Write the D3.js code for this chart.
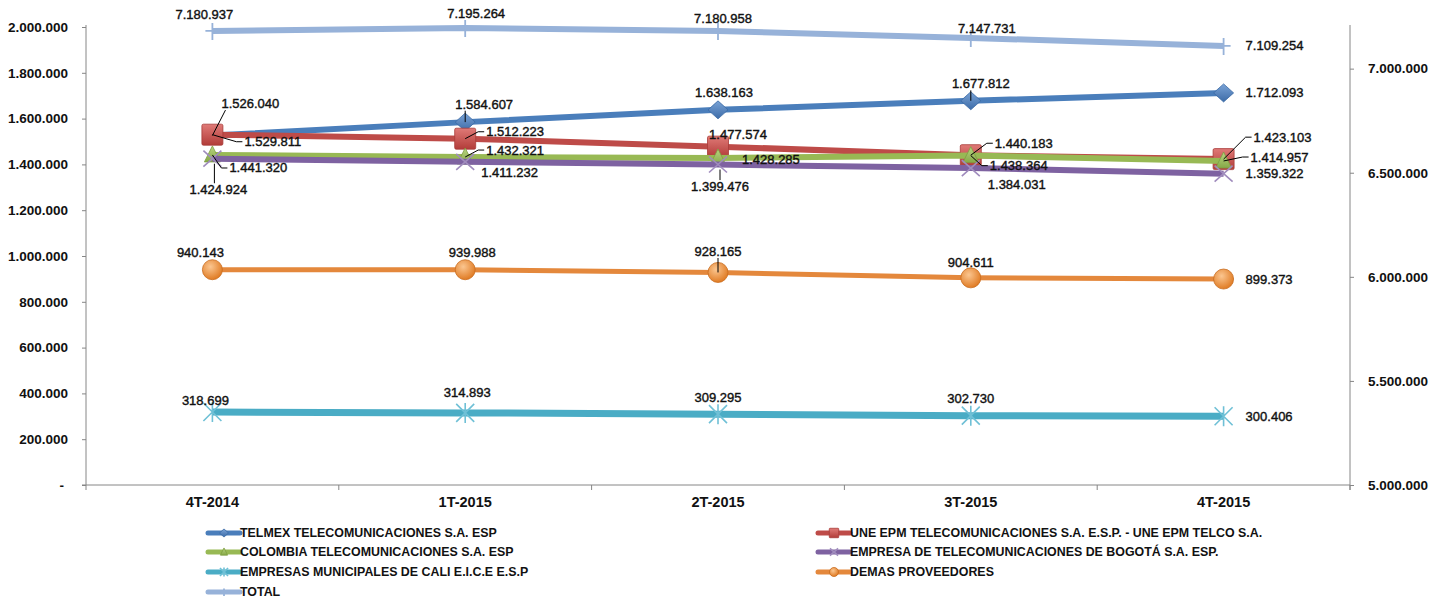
<!DOCTYPE html>
<html>
<head>
<meta charset="utf-8">
<script src="https://cdn.jsdelivr.net/npm/d3@7"></script>
<style>
  html, body { margin: 0; padding: 0; background: #fff; }
  svg { display: block; }
  text { font-family: "Liberation Sans", Arial, sans-serif; }
</style>
</head>
<body>
<svg id="chart" width="1432" height="600"></svg>
<script>
// ---------------- DATA ----------------
const categories = ["4T-2014", "1T-2015", "2T-2015", "3T-2015", "4T-2015"];

const seriesNames = [
  "TELMEX TELECOMUNICACIONES S.A. ESP",
  "UNE EPM TELECOMUNICACIONES S.A. E.S.P. - UNE EPM TELCO S.A.",
  "COLOMBIA TELECOMUNICACIONES S.A. ESP",
  "EMPRESA DE TELECOMUNICACIONES DE BOGOTÁ S.A. ESP.",
  "EMPRESAS MUNICIPALES DE CALI E.I.C.E E.S.P",
  "DEMAS PROVEEDORES",
  "TOTAL"
];

const telmex   = [1526040, 1584607, 1638163, 1677812, 1712093];
const une      = [1529811, 1512223, 1477574, 1440183, 1423103];
const colombia = [1441320, 1432321, 1428285, 1438364, 1414957];
const etb      = [1424924, 1411232, 1399476, 1384031, 1359322];
const emcali   = [318699, 314893, 309295, 302730, 300406];
const demas    = [940143, 939988, 928165, 904611, 899373];
const total    = [7180937, 7195264, 7180958, 7147731, 7109254];

const leftTicks  = [0, 200000, 400000, 600000, 800000, 1000000, 1200000, 1400000, 1600000, 1800000, 2000000];
const rightTicks = [5000000, 5500000, 6000000, 6500000, 7000000];

// ---------------- STYLE / LAYOUT ----------------
const W = 1432, H = 600;
const plot = { left: 86, right: 1350, top: 27, bottom: 485 };

const styles = [
  { color: "#4a7ebb", marker: "diamond",  fill: ["#7aa3d6", "#3d6ca8"], width: 6 },
  { color: "#be4b48", marker: "square",   fill: ["#e07a77", "#b23c39"], width: 6 },
  { color: "#98b954", marker: "triangle", fill: ["#b9d582", "#86a847"], width: 6 },
  { color: "#7e62a1", marker: "x",        fill: null, width: 6 },
  { color: "#4aacc5", marker: "asterisk", fill: null, width: 7 },
  { color: "#e4883c", marker: "circle",   fill: ["#fbc690", "#e07c25"], width: 5 },
  { color: "#97b2d9", marker: "plus",     fill: null, width: 6 }
];

// label layout: [dx, dy, anchor, leader]
const labelLayout = [
  [[38,-32,"middle",1],[19,-18,"middle",1],[6,-17,"middle",0],[10,-17,"middle",1],[22,0,"start",0]],
  [[32,7,"start",1],[21,-7,"start",1],[20,-12,"middle",0],[24,-12,"start",1],[30,-22,"start",1]],
  [[17,13,"start",1],[21,-7,"start",1],[24,2,"start",0],[19,10,"start",1],[27,-4,"start",1]],
  [[6,31,"middle",1],[16,11,"start",0],[2,22,"middle",1],[17,16,"start",0],[22,0,"start",0]],
  [[-7,-12,"middle",0],[2,-20,"middle",0],[0,-17,"middle",0],[0,-17,"middle",0],[22,0,"start",0]],
  [[-12,-17,"middle",0],[7,-17,"middle",0],[0,-21,"middle",1],[0,-15,"middle",0],[22,0,"start",0]],
  [[-8,-17,"middle",0],[11,-15,"middle",0],[5,-13,"middle",0],[16,-9,"middle",0],[22,0,"start",0]]
];

const allValues = [telmex, une, colombia, etb, emcali, demas, total];
const series = seriesNames.map((name, i) => ({
  name, values: allValues[i], style: styles[i], layout: labelLayout[i], secondary: i === 6
}));

// ---------------- SETUP ----------------
const locale = d3.formatLocale({ decimal: ",", thousands: ".", grouping: [3], currency: ["$", ""] });
const fmt = locale.format(",d");

const svg = d3.select("#chart");
const defs = svg.append("defs");

const x = d3.scaleBand().domain(categories).range([plot.left, plot.right]).paddingInner(0).paddingOuter(0);
const cx = c => x(c) + x.bandwidth() / 2;
const yL = d3.scaleLinear().domain([0, 2000000]).range([plot.bottom, plot.top]);
const yR = d3.scaleLinear().domain([5000000, 7200000]).range([plot.bottom, plot.top]);

// gradients
series.forEach((s, i) => {
  if (!s.style.fill) return;
  if (s.style.marker === "circle") {
    const g = defs.append("radialGradient").attr("id", "grad" + i)
      .attr("cx", "40%").attr("cy", "35%").attr("r", "65%");
    g.append("stop").attr("offset", "0%").attr("stop-color", s.style.fill[0]);
    g.append("stop").attr("offset", "100%").attr("stop-color", s.style.fill[1]);
  } else {
    const g = defs.append("linearGradient").attr("id", "grad" + i)
      .attr("x1", "0").attr("y1", "0").attr("x2", "0").attr("y2", "1");
    g.append("stop").attr("offset", "0%").attr("stop-color", s.style.fill[0]);
    g.append("stop").attr("offset", "100%").attr("stop-color", s.style.fill[1]);
  }
});

const axisColor = "#868686";

// ---------------- AXES ----------------
const gL = svg.append("g").attr("transform", `translate(${plot.left},0)`)
  .call(d3.axisLeft(yL).tickValues(leftTicks).tickSize(4).tickPadding(14)
    .tickFormat(d => d === 0 ? "-" : fmt(d)));
gL.selectAll("path.domain").attr("stroke", axisColor);
gL.selectAll(".tick line").attr("stroke", axisColor);
gL.selectAll(".tick text").attr("font-size", 13.5).attr("font-weight", "bold")
  .attr("fill", "#111").attr("font-family", "Liberation Sans, Arial, sans-serif")
  .filter(d => d === 0).attr("dx", -4);
gL.selectAll("path.domain").attr("d", `M-4,${plot.bottom}H0V${plot.top - 2}`);

const gR = svg.append("g").attr("transform", `translate(${plot.right},0)`)
  .call(d3.axisRight(yR).tickValues(rightTicks).tickSize(4).tickPadding(14).tickFormat(fmt));
gR.selectAll("path.domain").attr("stroke", axisColor).attr("d", `M0,${plot.bottom + 5}V${plot.top - 2}`);
gR.selectAll(".tick line").attr("stroke", axisColor);
gR.selectAll(".tick text").attr("font-size", 13.5).attr("font-weight", "bold")
  .attr("fill", "#111").attr("font-family", "Liberation Sans, Arial, sans-serif");

const gB = svg.append("g").attr("transform", `translate(0,${plot.bottom})`)
  .call(d3.axisBottom(x).tickSize(0).tickPadding(12));
gB.selectAll("path.domain").attr("stroke", axisColor).attr("d", `M${plot.left},0H${plot.right}`);
gB.selectAll(".tick text").attr("font-size", 14.5).attr("font-weight", "bold")
  .attr("fill", "#111").attr("font-family", "Liberation Sans, Arial, sans-serif");
// boundary tick marks
const bounds = categories.map(c => x(c)).concat([x(categories[categories.length - 1]) + x.bandwidth()]);
gB.selectAll("line.btick").data(bounds).enter().append("line")
  .attr("class", "btick").attr("x1", d => d).attr("x2", d => d)
  .attr("y1", 0).attr("y2", 5).attr("stroke", axisColor);

// ---------------- MARKERS ----------------
function drawMarker(g, i, s, scale) {
  const k = scale || 1;
  const fill = s.style.fill ? `url(#grad${i})` : "none";
  switch (s.style.marker) {
    case "diamond":
      g.append("path").attr("d", `M0,${-9*k}L${10*k},0L0,${9*k}L${-10*k},0Z`)
        .attr("fill", fill).attr("stroke", "#3a6aa5").attr("stroke-width", 0.8);
      break;
    case "square":
      g.append("rect").attr("x", -10.5*k).attr("y", -10.5*k).attr("width", 21*k).attr("height", 21*k)
        .attr("rx", 1.5*k).attr("fill", fill).attr("stroke", "#a83b38").attr("stroke-width", 0.8);
      break;
    case "triangle":
      g.append("path").attr("d", `M0,${-9*k}L${8*k},${7*k}L${-8*k},${7*k}Z`)
        .attr("fill", fill).attr("stroke", "#7c9d40").attr("stroke-width", 0.8);
      break;
    case "circle":
      g.append("circle").attr("r", 10*k).attr("fill", fill)
        .attr("stroke", "#c96c1e").attr("stroke-width", 0.8);
      break;
    case "x":
      g.append("path").attr("d", `M${-9*k},${-8*k}L${9*k},${8*k}M${-9*k},${8*k}L${9*k},${-8*k}`)
        .attr("stroke", "#a08cbd").attr("stroke-width", 1.6).attr("fill", "none");
      break;
    case "asterisk":
      g.append("path").attr("d", `M${-9*k},${-9*k}L${9*k},${9*k}M${-9*k},${9*k}L${9*k},${-9*k}M0,${-10*k}L0,${10*k}`)
        .attr("stroke", "#6fc0d6").attr("stroke-width", 1.6).attr("fill", "none");
      break;
    case "plus":
      g.append("path").attr("d", `M0,${-8*k}L0,${9*k}M${-7*k},0L${7*k},0`)
        .attr("stroke", "#97b2d9").attr("stroke-width", 1.8).attr("fill", "none");
      break;
  }
}

// ---------------- SERIES ----------------
const plotG = svg.append("g");
series.forEach((s, i) => {
  const yScale = s.secondary ? yR : yL;
  const pts = s.values.map((v, j) => [cx(categories[j]), yScale(v)]);
  const line = d3.line().x(d => d[0]).y(d => d[1]);
  const sg = plotG.append("g");
  sg.append("path").attr("d", line(pts)).attr("fill", "none")
    .attr("stroke", s.style.color).attr("stroke-width", s.style.width)
    .attr("stroke-linejoin", "round");
  pts.forEach(p => {
    const mg = sg.append("g").attr("transform", `translate(${p[0]},${p[1]})`);
    drawMarker(mg, i, s, 1);
  });
});

// ---------------- LABELS ----------------
const labelG = svg.append("g");
series.forEach((s, i) => {
  const yScale = s.secondary ? yR : yL;
  s.values.forEach((v, j) => {
    const px = cx(categories[j]), py = yScale(v);
    const [dx, dy, anchor, leader] = s.layout[j];
    const t = labelG.append("text")
      .attr("x", px + dx).attr("y", py + dy).attr("dy", "0.35em")
      .attr("text-anchor", anchor).attr("font-size", 13).attr("fill", "#111")
      .attr("stroke", "#111").attr("stroke-width", 0.4)
      .text(fmt(v));
    if (leader) {
      const b = t.node().getBBox();
      let path;
      if (anchor === "start") {
        const ax = b.x - 2, ay = b.y + b.height / 2;
        path = `M${ax},${ay}H${ax - 6}L${px},${py}`;
      } else if (dy > 0) {
        const ax = Math.max(b.x + 4, Math.min(px + 2, b.x + b.width - 4));
        path = `M${ax},${b.y + 1}L${px + 2},${py + 5}`;
      } else {
        const ax = Math.max(b.x + 4, Math.min(px, b.x + b.width - 4));
        path = `M${ax},${b.y + b.height - 1}L${px},${py}`;
      }
      labelG.append("path").attr("d", path).attr("fill", "none")
        .attr("stroke", "#000").attr("stroke-width", 1);
    }
  });
});

// ---------------- LEGEND ----------------
const legendPos = [
  [208, 533], [818, 533],
  [208, 552], [818, 552],
  [208, 572], [818, 572],
  [208, 592]
];
const legG = svg.append("g");
series.forEach((s, i) => {
  const [lx, ly] = legendPos[i];
  const g = legG.append("g").attr("transform", `translate(${lx},${ly})`);
  g.append("line").attr("x1", 0).attr("x2", 32).attr("y1", 0).attr("y2", 0)
    .attr("stroke", s.style.color).attr("stroke-width", 5).attr("stroke-linecap", "round");
  const mg = g.append("g").attr("transform", "translate(16,0)");
  drawMarker(mg, i, s, 0.45);
  g.append("text").attr("x", 32).attr("y", 0).attr("dy", "0.35em")
    .attr("font-size", 12.4).attr("font-weight", "bold").attr("fill", "#111")
    .text(s.name);
});
</script>
</body>
</html>
